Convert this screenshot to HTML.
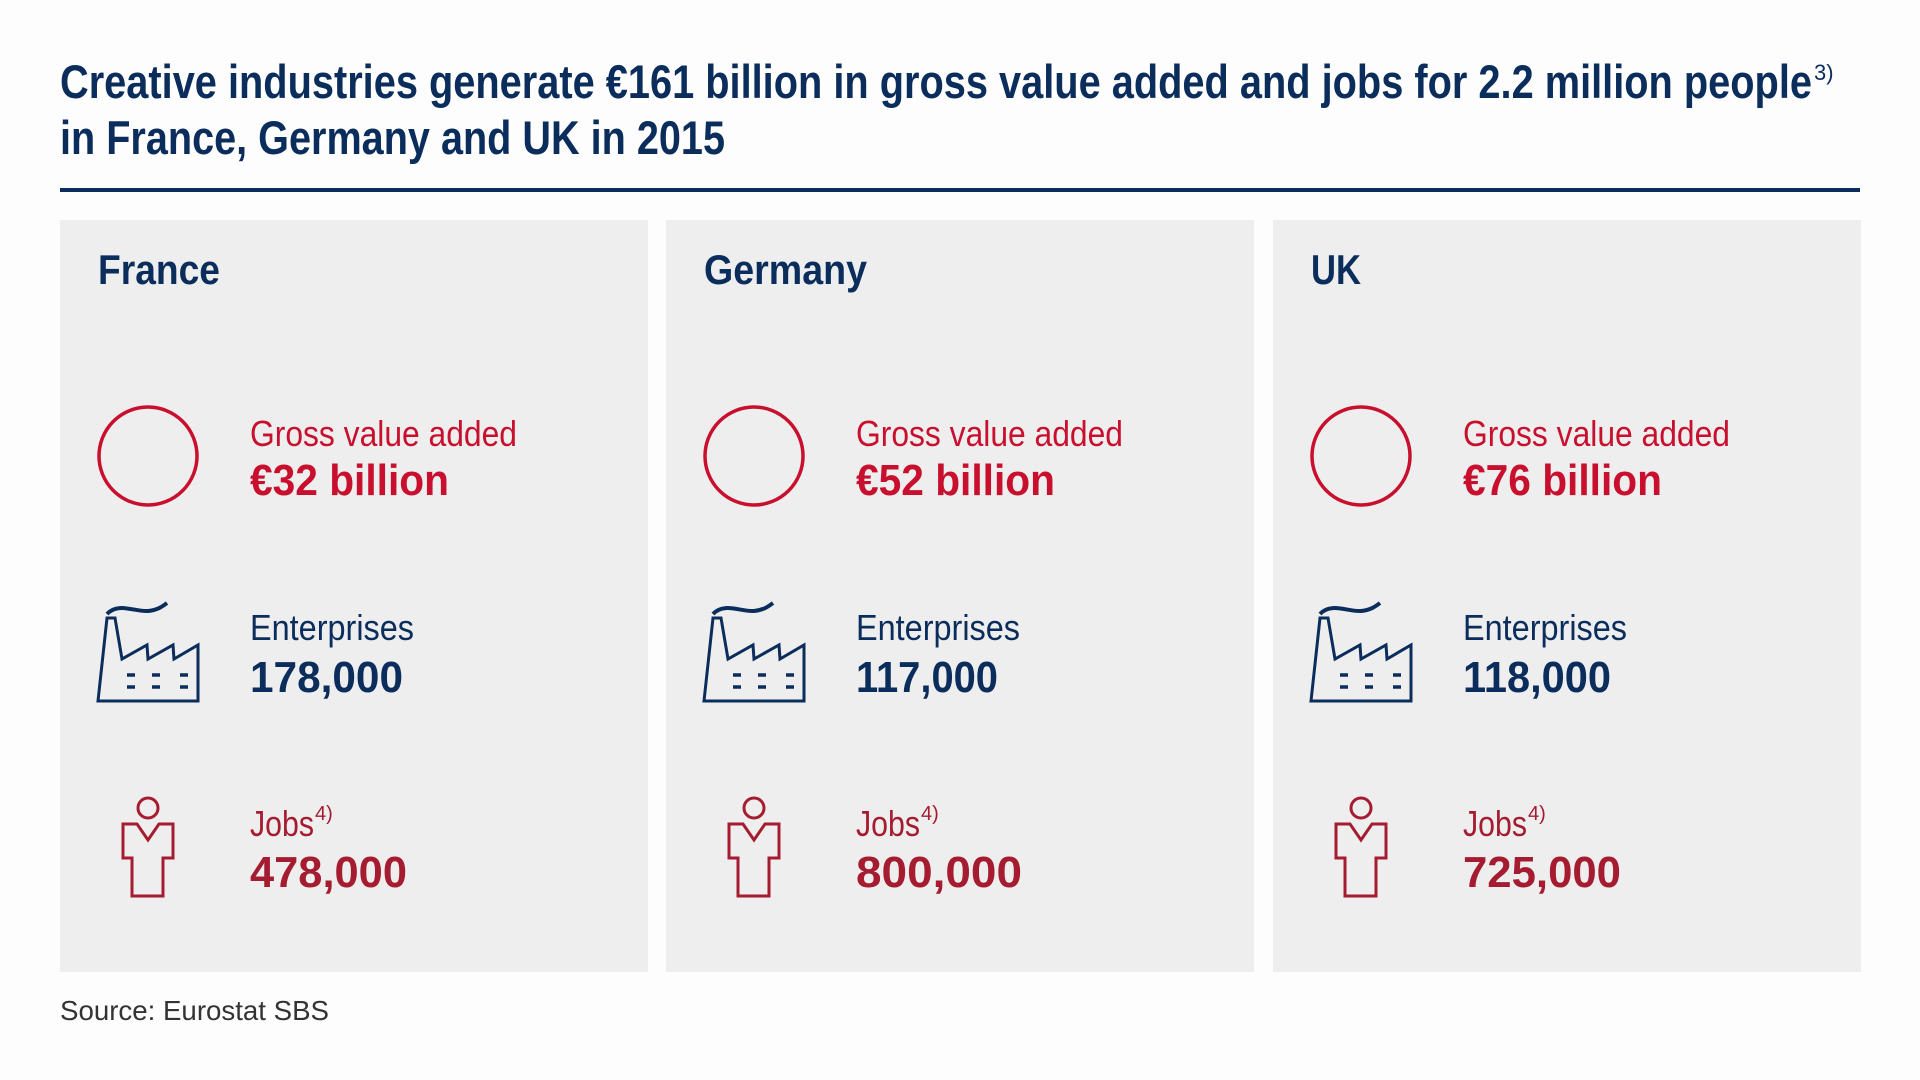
<!DOCTYPE html>
<html><head><meta charset="utf-8"><style>
html,body{margin:0;padding:0;background:#fdfdfd}
svg{display:block}
text{font-family:"Liberation Sans Narrow","Liberation Sans",sans-serif}
</style></head><body>
<svg width="1920" height="1080" viewBox="0 0 1920 1080" xmlns="http://www.w3.org/2000/svg">
<rect width="1920" height="1080" fill="#fdfdfd"/>
<text x="60" y="98" font-size="47" font-weight="bold" fill="#0b2d5b" textLength="1752" lengthAdjust="spacingAndGlyphs">Creative industries generate €161 billion in gross value added and jobs for 2.2 million people</text>
<text x="1814" y="80" font-size="22" fill="#0b2d5b">3)</text>
<text x="60" y="154" font-size="47" font-weight="bold" fill="#0b2d5b" textLength="665" lengthAdjust="spacingAndGlyphs">in France, Germany and UK in 2015</text>
<rect x="60" y="188" width="1800" height="4" fill="#0b2d5b"/>

<defs>
<g id="panel">
<rect x="60" y="220" width="588" height="752" fill="#eeeeef"/>
<circle cx="148" cy="456" r="49" fill="none" stroke="#c8102e" stroke-width="3.5"/>
<g fill="none" stroke="#0b2d5b" stroke-width="3" stroke-linejoin="miter">
<path d="M98,701 L107,618 L115,618 L122,659 L147,645 L148,659 L173,645 L174,659 L198,645 L198,701 Z"/>
<path d="M107,614 C118,602 135,612 148,611 C158,610 163,606 167,603" stroke-width="4"/>
<path d="M127,675h8M152,675h8M180,675h8M127,687h8M152,687h8M180,687h8" stroke-width="3.5"/>
</g>
<g fill="none" stroke="#a51c30" stroke-width="3" stroke-linejoin="miter">
<circle cx="148" cy="808" r="10"/>
<path d="M137,824 L123,824 L123,858 L132,858 L132,896 L163,896 L163,858 L173,858 L173,824 L159,824 L148,840 Z"/>
</g>
</g>
</defs>

<use href="#panel"/>
<use href="#panel" x="606"/>
<use href="#panel" x="1213"/>

<g font-size="42" font-weight="bold" fill="#0b2d5b">
<text x="98" y="284" textLength="122" lengthAdjust="spacingAndGlyphs">France</text>
<text x="704" y="284" textLength="163" lengthAdjust="spacingAndGlyphs">Germany</text>
<text x="1311" y="284" textLength="50" lengthAdjust="spacingAndGlyphs">UK</text>
</g>

<g font-size="36" fill="#c8102e">
<text x="250" y="446" textLength="267" lengthAdjust="spacingAndGlyphs">Gross value added</text>
<text x="856" y="446" textLength="267" lengthAdjust="spacingAndGlyphs">Gross value added</text>
<text x="1463" y="446" textLength="267" lengthAdjust="spacingAndGlyphs">Gross value added</text>
</g>
<g font-size="44" font-weight="bold" fill="#c8102e">
<text x="250" y="495" textLength="199" lengthAdjust="spacingAndGlyphs">€32 billion</text>
<text x="856" y="495" textLength="199" lengthAdjust="spacingAndGlyphs">€52 billion</text>
<text x="1463" y="495" textLength="199" lengthAdjust="spacingAndGlyphs">€76 billion</text>
</g>

<g font-size="36" fill="#0b2d5b">
<text x="250" y="640" textLength="164" lengthAdjust="spacingAndGlyphs">Enterprises</text>
<text x="856" y="640" textLength="164" lengthAdjust="spacingAndGlyphs">Enterprises</text>
<text x="1463" y="640" textLength="164" lengthAdjust="spacingAndGlyphs">Enterprises</text>
</g>
<g font-size="44" font-weight="bold" fill="#0b2d5b">
<text x="250" y="692" textLength="153" lengthAdjust="spacingAndGlyphs">178,000</text>
<text x="856" y="692" textLength="142" lengthAdjust="spacingAndGlyphs">117,000</text>
<text x="1463" y="692" textLength="148" lengthAdjust="spacingAndGlyphs">118,000</text>
</g>

<g font-size="36" fill="#a51c30">
<text x="250" y="836" textLength="64" lengthAdjust="spacingAndGlyphs">Jobs</text>
<text x="315" y="820" font-size="20">4)</text>
<text x="856" y="836" textLength="64" lengthAdjust="spacingAndGlyphs">Jobs</text>
<text x="921" y="820" font-size="20">4)</text>
<text x="1463" y="836" textLength="64" lengthAdjust="spacingAndGlyphs">Jobs</text>
<text x="1528" y="820" font-size="20">4)</text>
</g>
<g font-size="44" font-weight="bold" fill="#a51c30">
<text x="250" y="887" textLength="157" lengthAdjust="spacingAndGlyphs">478,000</text>
<text x="856" y="887" textLength="166" lengthAdjust="spacingAndGlyphs">800,000</text>
<text x="1463" y="887" textLength="158" lengthAdjust="spacingAndGlyphs">725,000</text>
</g>

<text x="60" y="1020" font-size="28" fill="#333" style="font-family:'Liberation Sans',sans-serif" textLength="269" lengthAdjust="spacingAndGlyphs">Source: Eurostat SBS</text>
</svg>
</body></html>
